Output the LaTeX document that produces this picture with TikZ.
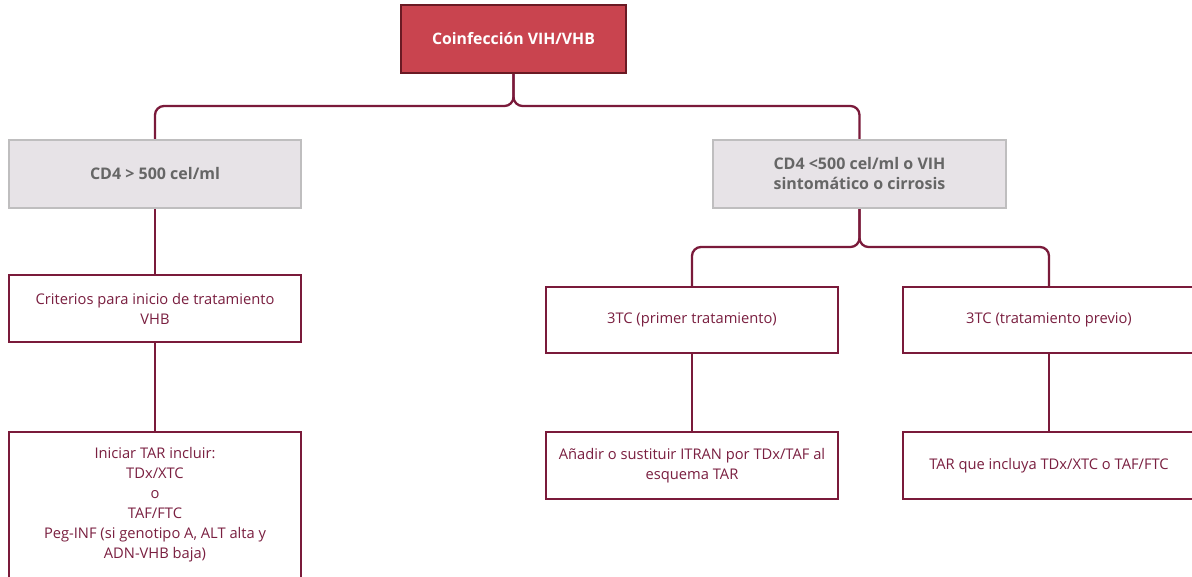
\documentclass[tikz,border=0pt]{standalone}
\usepackage{fontspec}
\setmainfont{Open Sans}
\definecolor{wine}{HTML}{7A1A3A}
\definecolor{winetext}{HTML}{7A1F40}
\definecolor{headfill}{HTML}{C9444F}
\definecolor{headdraw}{HTML}{6A1A24}
\definecolor{greyfill}{HTML}{E7E3E7}
\definecolor{greydraw}{HTML}{BFBEBF}
\definecolor{greytext}{HTML}{666666}
\tikzset{
  box/.style={rectangle, draw=wine, line width=2.3pt, fill=white, text=winetext,
    align=center, inner sep=0pt, font=\fontsize{14.7}{20}\selectfont},
  headbox/.style={box, fill=headfill, draw=headdraw, text=white,
    font=\fontsize{15.8}{20}\selectfont\bfseries},
  greybox/.style={box, fill=greyfill, draw=greydraw, text=greytext,
    font=\fontsize{16}{20}\selectfont\bfseries},
  link/.style={draw=wine, line width=2.3pt, rounded corners=9pt}
}
\begin{document}
\begin{tikzpicture}[x=1pt, y=-1pt]
  \useasboundingbox (0,0) rectangle (1192,577);
  \clip (0,0) rectangle (1192,577);
  % top level
  \node[headbox, minimum width=225pt, minimum height=68pt] (top) at (513.5,39) {Coinfección VIH/VHB};
  % CD4 split
  \node[greybox, minimum width=292pt, minimum height=68pt] (g1) at (155,174) {CD4 > 500 cel/ml};
  \node[greybox, minimum width=293pt, minimum height=68pt] (g2) at (859.5,174) {CD4 <500 cel/ml o VIH\\sintomático o cirrosis};
  % second level
  \node[box, minimum width=292pt, minimum height=67pt] (b1) at (155,308.5) {Criterios para inicio de tratamiento\\VHB};
  \node[box, minimum width=292pt, minimum height=66pt] (b2) at (692,320) {3TC (primer tratamiento)};
  \node[box, minimum width=292pt, minimum height=66pt] (b3) at (1049,320) {3TC (tratamiento previo)};
  % treatment boxes
  \node[box, minimum width=292pt, minimum height=146pt] (c1) at (155,505) {Iniciar TAR incluir:\\TDx/XTC\\o\\TAF/FTC\\Peg-INF (si genotipo A, ALT alta y\\ADN-VHB baja)};
  \node[box, minimum width=292pt, minimum height=67pt] (c2) at (692,465.5) {Añadir o sustituir ITRAN por TDx/TAF al\\esquema TAR};
  \node[box, minimum width=292pt, minimum height=67pt] (c3) at (1049,465.5) {TAR que incluya TDx/XTC o TAF/FTC};
  % junctions
  \coordinate (j1) at (513.5,106);
  \coordinate (j2) at (859.5,247);
  % connectors
  \draw[link] (top.south) -- (j1) -| (g1.north);
  \draw[link] (top.south) -- (j1) -| (g2.north);
  \draw[link] (g2.south) -- (j2) -| (b2.north);
  \draw[link] (g2.south) -- (j2) -| (b3.north);
  \draw[link] (g1.south) -- (b1.north);
  \draw[link] (b1.south) -- (c1.north);
  \draw[link] (b2.south) -- (c2.north);
  \draw[link] (b3.south) -- (c3.north);
\end{tikzpicture}
\end{document}
